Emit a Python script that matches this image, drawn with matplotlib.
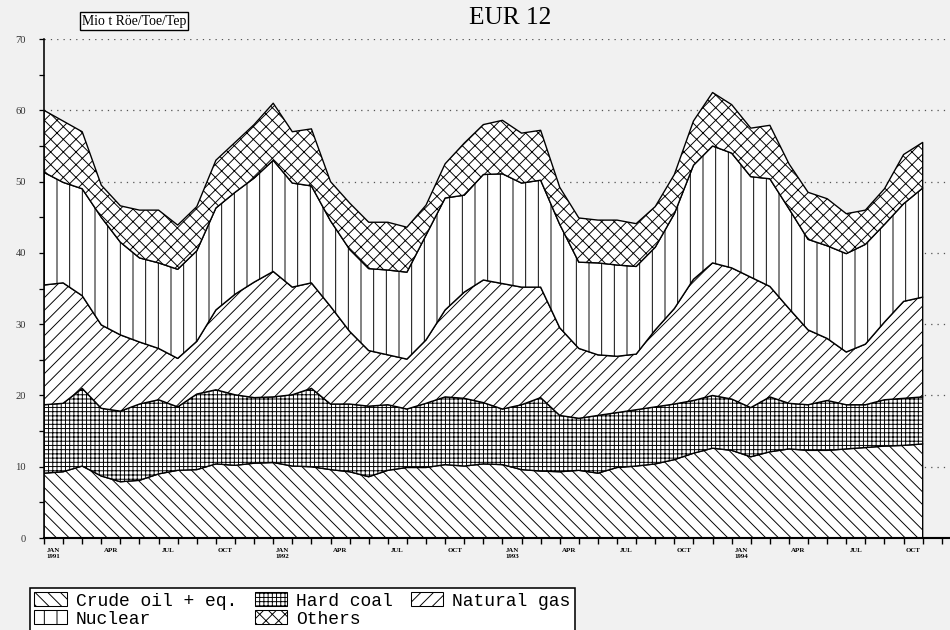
import matplotlib
matplotlib.use("Agg")
import matplotlib.pyplot as plt
import numpy as np
from matplotlib.patches import Patch

# monthly values, Mio t Röe/Toe/Tep, EUR 12, from Jan 1991
crude_oil = [9.1, 9.3, 10.1, 8.7, 7.9, 8.1, 9.0, 9.5, 9.6, 10.4,
             10.2, 10.5, 10.6, 10.1, 10.0, 9.6, 9.3, 8.6, 9.5, 9.9,
             9.9, 10.3, 10.1, 10.4, 10.3, 9.6, 9.4, 9.3, 9.5, 9.1,
             9.9, 10.1, 10.4, 11.0, 11.9, 12.6, 12.3, 11.4, 12.1, 12.5,
             12.3, 12.3, 12.5, 12.7, 12.9, 13.0, 13.2]
hard_coal = [9.6, 9.6, 10.9, 9.5, 9.9, 10.7, 10.4, 8.9, 10.6, 10.4,
             9.9, 9.2, 9.2, 10.0, 11.0, 9.2, 9.5, 9.9, 9.2, 8.2,
             9.0, 9.5, 9.5, 8.6, 7.8, 9.1, 10.3, 7.9, 7.3, 8.1,
             7.7, 7.9, 8.0, 7.8, 7.4, 7.4, 7.2, 6.9, 7.7, 6.4,
             6.4, 7.0, 6.2, 6.0, 6.5, 6.6, 6.6]
natural_gas = [16.8, 16.9, 13.0, 11.7, 10.7, 8.7, 7.2, 6.8, 7.4, 11.2,
               14.1, 16.2, 17.6, 15.1, 14.8, 13.7, 10.2, 7.8, 7.0, 7.0,
               8.9, 12.2, 14.9, 17.2, 17.6, 16.5, 15.5, 12.3, 9.8, 8.5,
               7.9, 7.8, 10.8, 13.4, 17.0, 18.6, 18.4, 18.3, 15.5, 13.3,
               10.5, 8.7, 7.4, 8.5, 10.9, 13.6, 14.0]
nuclear = [15.8, 14.1, 15.0, 15.1, 13.0, 11.8, 12.0, 12.5, 12.7, 14.3,
           14.3, 14.6, 15.6, 14.6, 13.6, 12.0, 11.5, 11.5, 11.9, 12.2,
           14.7, 15.7, 13.6, 14.8, 15.4, 14.6, 15.0, 14.5, 12.1, 12.9,
           12.8, 12.3, 11.6, 13.3, 16.0, 16.4, 16.1, 14.1, 15.1, 14.0,
           12.7, 13.0, 13.8, 14.0, 13.7, 13.7, 15.3]
others = [8.7, 8.6, 8.0, 4.5, 5.1, 6.7, 7.4, 6.2, 6.2, 6.7,
          7.0, 7.5, 8.0, 7.2, 8.0, 5.5, 6.5, 6.5, 6.7, 6.3,
          4.2, 4.8, 7.3, 7.0, 7.5, 7.0, 7.0, 5.2, 6.2, 6.0,
          6.3, 6.0, 5.7, 5.5, 6.2, 7.5, 6.8, 6.8, 7.5, 6.3,
          6.6, 6.6, 5.6, 4.8, 5.0, 6.9, 6.4]

series_names = ["Crude oil + eq.", "Hard coal", "Natural gas", "Nuclear", "Others"]
hatches = ["\\\\", "+++", "//", "|", "xx"]
month_labels = ["JAN\n1991", "APR", "JUL", "OCT", "JAN\n1992", "APR", "JUL", "OCT",
                "JAN\n1993", "APR", "JUL", "OCT", "JAN\n1994", "APR", "JUL", "OCT"]

DPI = 76
plt.rcParams["hatch.linewidth"] = 0.9
plt.rcParams["font.family"] = ["Liberation Serif", "DejaVu Serif"]

fig = plt.figure(figsize=(950 / DPI, 630 / DPI), dpi=DPI, facecolor="#f1f1f1")
ax = fig.add_axes([0.0463, 0.146, 0.9537, 0.792])
ax.set_facecolor("none")

x = np.arange(len(crude_oil))
data = [crude_oil, hard_coal, natural_gas, nuclear, others]
bottom = np.zeros(len(x))
for vals, h in zip(data, hatches):
    top = bottom + np.array(vals)
    ax.fill_between(x, bottom, top, facecolor="white", edgecolor="black",
                    hatch=h, linewidth=1.3, zorder=2)
    bottom = top

ax.set_xlim(0, 47.43)
ax.set_ylim(0, 70)

for y in range(10, 71, 10):
    ax.axhline(y, color="#555555", lw=1.2, ls=(0, (1, 4)), zorder=1)

ax.spines["top"].set_visible(False)
ax.spines["right"].set_visible(False)
ax.spines["left"].set_linewidth(1.5)
ax.spines["bottom"].set_linewidth(2.0)
ax.spines["left"].set_bounds(0, 70)

ax.set_yticks(range(0, 71, 10))
ax.set_yticks(range(5, 70, 10), minor=True)
ax.tick_params(axis="y", which="both", direction="out", length=5, width=1.2,
               labelsize=10, labelcolor="#333333", pad=12)

ax.set_xticks(np.arange(0, 48))
ax.set_xticklabels([])
ax.set_xticks(np.arange(0.5, 46, 3), minor=True)
ax.set_xticklabels(month_labels, minor=True, fontsize=6.5, fontweight="bold",
                   linespacing=1.3)
ax.tick_params(axis="x", which="major", direction="out", length=6, width=1.3)
ax.tick_params(axis="x", which="minor", length=0, pad=9)

fig.text(510 / 950, 1 - 18 / 630, "EUR 12", ha="center", va="center", fontsize=24)
fig.text(134 / 950, 1 - 21 / 630, "Mio t Röe/Toe/Tep", ha="center", va="center",
         fontsize=13,
         bbox=dict(boxstyle="square,pad=0.15", facecolor="white", edgecolor="black", lw=1.3))

handles = [Patch(facecolor="white", edgecolor="black", hatch=h, lw=1.0) for h in hatches]
order = [0, 3, 1, 4, 2]
leg = fig.legend([handles[i] for i in order], [series_names[i] for i in order],
                 loc="upper left", bbox_to_anchor=(30 / 950, 1 - 588 / 630), ncol=3,
                 prop={"family": "Liberation Mono", "size": 17},
                 frameon=True, fancybox=False, edgecolor="black", facecolor="white",
                 framealpha=1, handlelength=1.8, handleheight=0.8, handletextpad=0.5,
                 columnspacing=1.0, labelspacing=0.05, borderpad=0.25, borderaxespad=0)
leg.get_frame().set_linewidth(1.5)

fig.savefig("out.png", dpi=DPI, facecolor=fig.get_facecolor())
